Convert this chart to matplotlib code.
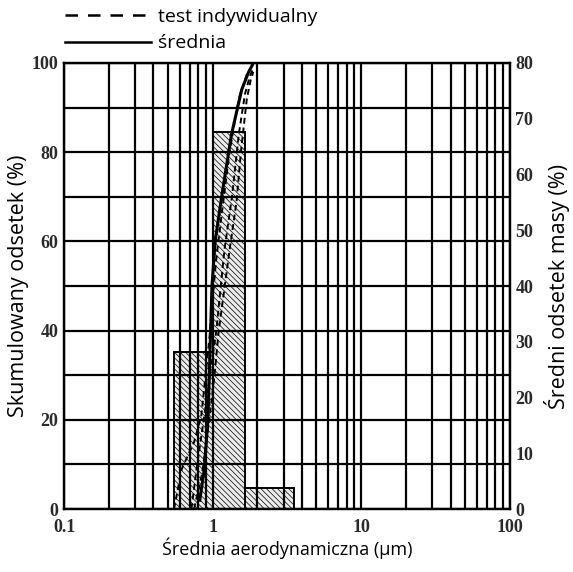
import matplotlib

matplotlib.use("Agg")
import matplotlib.pyplot as plt
from matplotlib.lines import Line2D
from matplotlib.ticker import FixedLocator, NullFormatter

# histogram bins (aerodynamic diameter, um) and mean mass fraction (%)
BIN_EDGES = [0.55, 1.0, 1.64, 3.55]
MASS_FRAC = [28.2, 67.6, 3.8]

# mean cumulative curve
AVG_X = [0.82, 0.88, 0.93, 0.96, 0.99, 1.04, 1.15, 1.34, 1.57, 1.75, 1.85]
AVG_Y = [2, 9, 20, 35, 50, 60, 70, 84, 94, 98, 99.5]

# individual test curves
TEST_X = [
    [0.55, 0.62, 0.75, 0.84, 0.95, 1.05, 1.15, 1.3, 1.5, 1.72, 1.82],
    [0.72, 0.78, 0.88, 0.97, 1.06, 1.2, 1.35, 1.5, 1.65, 1.78, 1.86],
    [0.75, 0.85, 0.95, 1.03, 1.1, 1.3, 1.45, 1.55, 1.7, 1.8, 1.88],
]
TEST_Y = [
    [0, 9, 15, 21, 38, 55, 66, 80, 92, 98, 99],
    [0, 9, 21, 31, 40, 58, 70, 84, 93, 97, 98.5],
    [0, 8, 20, 30, 40, 58, 69, 80, 92, 96, 98],
]

LBL_FONT = "Open Sans"
TICK_FONT = "Liberation Serif"
LW = 1.6

plt.rcParams["hatch.color"] = "#ababab"
plt.rcParams["hatch.linewidth"] = 0.5

fig = plt.figure(figsize=(5.73, 5.72), dpi=100)
ax = fig.add_axes([0.1117, 0.110, 0.778, 0.780])
ax2 = ax.twinx()
# left axis (grid + curves) drawn above the bars of the right axis
ax.set_zorder(ax2.get_zorder() + 1)
ax.patch.set_visible(False)

ax.set_xscale("log")
ax.set_xlim(0.1, 100)
ax.set_ylim(0, 100)
ax2.set_ylim(0, 80)

# bars: mean mass fraction, right axis
lefts = BIN_EDGES[:-1]
widths = [b - a for a, b in zip(BIN_EDGES[:-1], BIN_EDGES[1:])]
ax2.bar(lefts, MASS_FRAC, width=widths, align="edge", color="#ececec",
        edgecolor="black", lw=1.4, hatch="\\\\\\\\\\\\")

# grid: every integer multiple on x, every 10 % on y
minors = [m * 10.0 ** d for d in (-1, 0, 1) for m in range(2, 10)]
ax.set_xticks([0.1, 1, 10, 100])
ax.set_xticklabels(["0.1", "1", "10", "100"])
ax.xaxis.set_minor_locator(FixedLocator(minors))
ax.xaxis.set_minor_formatter(NullFormatter())
ax.set_yticks(range(0, 101, 20))
ax.yaxis.set_minor_locator(FixedLocator(range(10, 100, 20)))
ax.grid(True, which="both", color="black", lw=LW)
ax.set_axisbelow(True)

for xs, ys in zip(TEST_X, TEST_Y):
    ax.plot(xs, ys, color="black", lw=1.4, ls=(0, (3, 2)), zorder=4)
ax.plot(AVG_X, AVG_Y, color="black", lw=2.2, zorder=5)

ax2.set_yticks(range(0, 81, 10))

for a in (ax, ax2):
    a.tick_params(which="both", length=0, pad=4)
    for sp in a.spines.values():
        sp.set_color("black")
        sp.set_linewidth(LW)
    for t in a.get_xticklabels() + a.get_yticklabels():
        t.set_fontfamily(TICK_FONT)
        t.set_fontweight("bold")
        t.set_fontsize(13)
        t.set_color("#2a2a2a")
ax.tick_params(axis="x", pad=7)

ax.set_xlabel("Średnia aerodynamiczna (µm)", fontfamily=LBL_FONT, fontsize=13,
              labelpad=1)
ax.set_ylabel("Skumulowany odsetek (%)", fontfamily=LBL_FONT, fontsize=15.5,
              labelpad=2)
ax2.set_ylabel("Średni odsetek masy (%)", fontfamily=LBL_FONT, fontsize=15.5,
               rotation=90, labelpad=8)

handles = [Line2D([0], [0], color="black", lw=1.8, ls=(0, (5, 4))),
           Line2D([0], [0], color="black", lw=1.8)]
ax.legend(handles, ["test indywidualny", "średnia"], loc="lower left",
          bbox_to_anchor=(-0.015, 1.006), frameon=False, handlelength=4.4,
          handletextpad=0.4, labelspacing=0.42, borderaxespad=0,
          prop={"family": LBL_FONT, "size": 14})

fig.savefig("out.png", dpi=100)
